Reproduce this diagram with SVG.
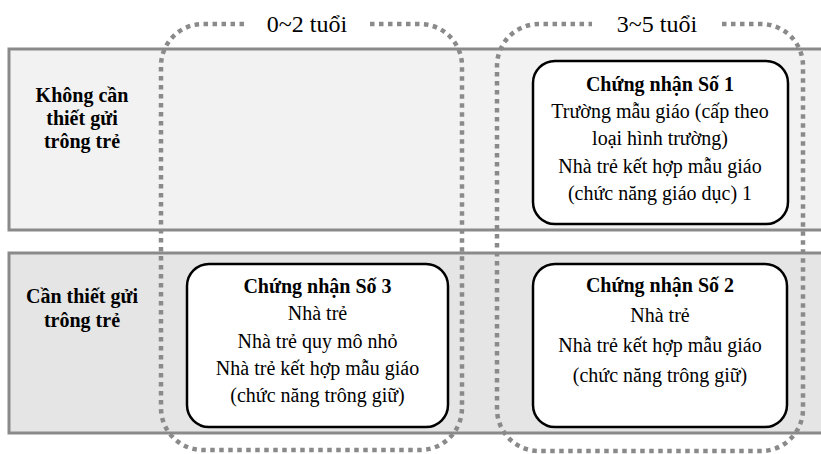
<svg xmlns="http://www.w3.org/2000/svg" width="821" height="454" viewBox="0 0 821 454">
<style>
.band{stroke:#8a8a8a;stroke-width:3}
.grp{fill:none;stroke:#8a8a8a;stroke-width:4.5;stroke-dasharray:4.5 4.5}
.box{fill:#ffffff;stroke:#000000;stroke-width:2.5}
text{font-family:"Liberation Serif","Times New Roman",serif;fill:#000000;text-anchor:middle}
.t{font-size:20px}
.b{font-size:20px;font-weight:bold}
.h{font-size:24px}
</style>
<rect width="821" height="454" fill="#ffffff"/>
<g id="row-khong-can">
<rect class="band" x="9" y="49" width="830" height="181" fill="#f2f2f2"/>
<text class="b" x="82" y="102">Không cần</text>
<text class="b" x="82" y="125">thiết gửi</text>
<text class="b" x="82" y="148">trông trẻ</text>
</g>
<g id="row-can">
<rect class="band" x="9" y="253" width="830" height="180" fill="#e5e5e5"/>
<text class="b" x="82" y="303">Cần thiết gửi</text>
<text class="b" x="82" y="327">trông trẻ</text>
</g>
<g id="col-0-2">
<path class="grp" d="M370,24 H420 A42,42 0 0 1 462,66 V408 A42,42 0 0 1 420,450 H203 A42,42 0 0 1 161,408 V66 A42,42 0 0 1 203,24 H245"/>
<text class="h" x="307" y="32">0~2 tuổi</text>
</g>
<g id="col-3-5">
<path class="grp" d="M722,24 H761 A42,42 0 0 1 803,66 V409 A42,42 0 0 1 761,451 H539 A42,42 0 0 1 497,409 V66 A42,42 0 0 1 539,24 H592"/>
<text class="h" x="657" y="32">3~5 tuổi</text>
</g>
<g id="cert-1">
<rect class="box" x="533" y="61" width="255" height="163" rx="22"/>
<text class="b" x="660" y="91">Chứng nhận Số 1</text>
<text class="t" x="660" y="118">Trường mẫu giáo (cấp theo</text>
<text class="t" x="660" y="145">loại hình trường)</text>
<text class="t" x="660" y="173">Nhà trẻ kết hợp mẫu giáo</text>
<text class="t" x="660" y="200">(chức năng giáo dục) 1</text>
</g>
<g id="cert-3">
<rect class="box" x="187" y="264" width="261" height="163" rx="22"/>
<text class="b" x="317.5" y="293">Chứng nhận Số 3</text>
<text class="t" x="317.5" y="320">Nhà trẻ</text>
<text class="t" x="317.5" y="348">Nhà trẻ quy mô nhỏ</text>
<text class="t" x="317.5" y="375">Nhà trẻ kết hợp mẫu giáo</text>
<text class="t" x="317.5" y="402">(chức năng trông giữ)</text>
</g>
<g id="cert-2">
<rect class="box" x="533" y="264" width="254" height="163" rx="22"/>
<text class="b" x="660" y="292">Chứng nhận Số 2</text>
<text class="t" x="660" y="322">Nhà trẻ</text>
<text class="t" x="660" y="352">Nhà trẻ kết hợp mẫu giáo</text>
<text class="t" x="660" y="382">(chức năng trông giữ)</text>
</g>
<g id="connectors"></g>
</svg>
